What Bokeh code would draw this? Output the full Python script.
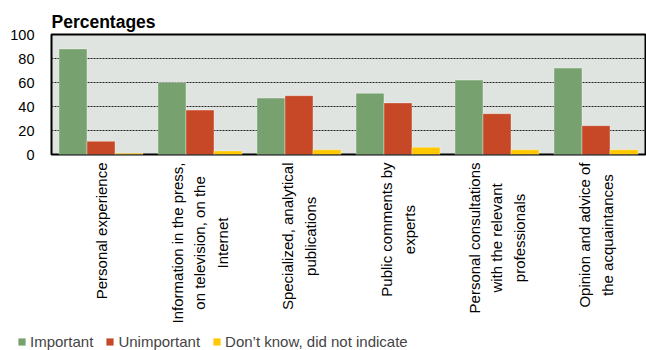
import math
from bokeh.plotting import figure
from bokeh.layouts import column, row
from bokeh.core.properties import value
from bokeh.models import (FactorRange, Range1d, FixedTicker, Legend, LegendItem,
                          ColumnDataSource)
from bokeh.transform import dodge
from bokeh.embed import file_html
from bokeh.resources import INLINE

# Sources of information and the share of respondents rating each one
categories = [
    "Personal experience",
    "Information in the press,\non television, on the\nInternet",
    "Specialized, analytical\npublications",
    "Public comments by\nexperts",
    "Personal consultations\nwith the relevant\nprofessionals",
    "Opinion and advice of\nthe acquaintances",
]
important = [88, 60, 47, 51, 62, 72]
unimportant = [11, 37, 49, 43, 34, 24]
dont_know = [1, 3, 4, 6, 4, 4]

series_names = ["Important", "Unimportant", "Don\u2019t know, did not indicate"]
series_colors = ["#77A26F", "#C64826", "#FFC800"]
y_ticks = [0, 20, 40, 60, 80, 100]

FONT = "Liberation Sans"
W = 646
CHART_H = 161
LABEL_H = 171
LEGEND_H = 18

source = ColumnDataSource(dict(cat=categories, imp=important,
                               unimp=unimportant, dk=dont_know))
series_cols = ["imp", "unimp", "dk"]
bar_w = 0.283
offsets = [-bar_w, 0, bar_w]

# --- bar chart -------------------------------------------------------------
p = figure(width=W, height=CHART_H, x_range=FactorRange(*categories),
           y_range=Range1d(0, 100), output_backend="svg", toolbar_location=None,
           min_border_left=51, min_border_right=1, min_border_top=34,
           min_border_bottom=CHART_H - 154)

p.background_fill_color = "#E0E4E0"
p.border_fill_color = "white"
p.outline_line_color = "black"
p.outline_line_width = 2

for col, off, color in zip(series_cols, offsets, series_colors):
    p.vbar(x=dodge("cat", off, range=p.x_range), top=col, width=bar_w,
           source=source, fill_color=color, line_color="white",
           line_alpha=0.35, line_width=1)

p.title.text = "Percentages"
p.title.text_font = FONT
p.title.text_font_size = "17.5px"
p.title.text_font_style = "bold"
p.title.text_color = "black"
p.title.align = "left"
p.title.offset = 0
p.title.standoff = 6

p.yaxis.ticker = FixedTicker(ticks=y_ticks)
p.yaxis.axis_line_color = None
p.yaxis.major_tick_line_color = None
p.yaxis.minor_tick_line_color = None
p.yaxis.major_label_text_font = FONT
p.yaxis.major_label_text_font_size = "14.5px"
p.yaxis.major_label_text_color = "black"
p.yaxis.major_label_standoff = 11

p.xaxis.visible = False
p.xgrid.grid_line_color = None
p.ygrid.ticker = FixedTicker(ticks=y_ticks[1:-1])
p.ygrid.grid_line_color = "#222222"
p.ygrid.grid_line_dash = "2 1"
p.ygrid.grid_line_width = 1

# --- category names, read bottom to top, lines centred ---------------------
lab = figure(width=W, height=LABEL_H, x_range=p.x_range,
             y_range=Range1d(-LABEL_H, 0),
             output_backend="svg", toolbar_location=None,
             x_axis_location=None, y_axis_location=None,
             min_border_left=51, min_border_right=1, min_border_top=0,
             min_border_bottom=0)
lab.outline_line_color = None
lab.background_fill_color = "white"
lab.grid.visible = False
lab.text(x=categories, y=[-1] * len(categories), text=categories,
         angle=math.pi / 2, anchor="center_right", text_align="center",
         text_baseline="middle", text_font_size="15px", text_line_height=1.33,
         text_font=value(FONT), text_color="black")

# --- legend strip ----------------------------------------------------------
leg = figure(width=W, height=LEGEND_H, x_range=FactorRange(*categories),
             y_range=Range1d(0, 1), output_backend="svg", toolbar_location=None,
             x_axis_location=None, y_axis_location=None,
             min_border_left=0, min_border_right=0, min_border_top=0,
             min_border_bottom=0)
leg.outline_line_color = None
leg.grid.visible = False
# hidden copies of the bar series supply the legend swatches
swatches = [leg.vbar(x=dodge("cat", off, range=leg.x_range), top=col,
                     width=bar_w, source=source, fill_color=color,
                     line_color=None, visible=False)
            for col, off, color in zip(series_cols, offsets, series_colors)]
legend = Legend(items=[LegendItem(label=n, renderers=[r])
                       for n, r in zip(series_names, swatches)],
                orientation="horizontal", location=(17, 0),
                label_text_font=FONT, label_text_font_size="15px",
                label_height=18, glyph_width=9, glyph_height=9,
                spacing=12, label_standoff=4, padding=0, margin=0,
                border_line_color=None, background_fill_alpha=0,
                click_policy="none", inactive_fill_alpha=0)
leg.add_layout(legend, "center")

layout = column(p, lab, row(leg), spacing=0)
open("out.html", "w").write(file_html(layout, INLINE))
